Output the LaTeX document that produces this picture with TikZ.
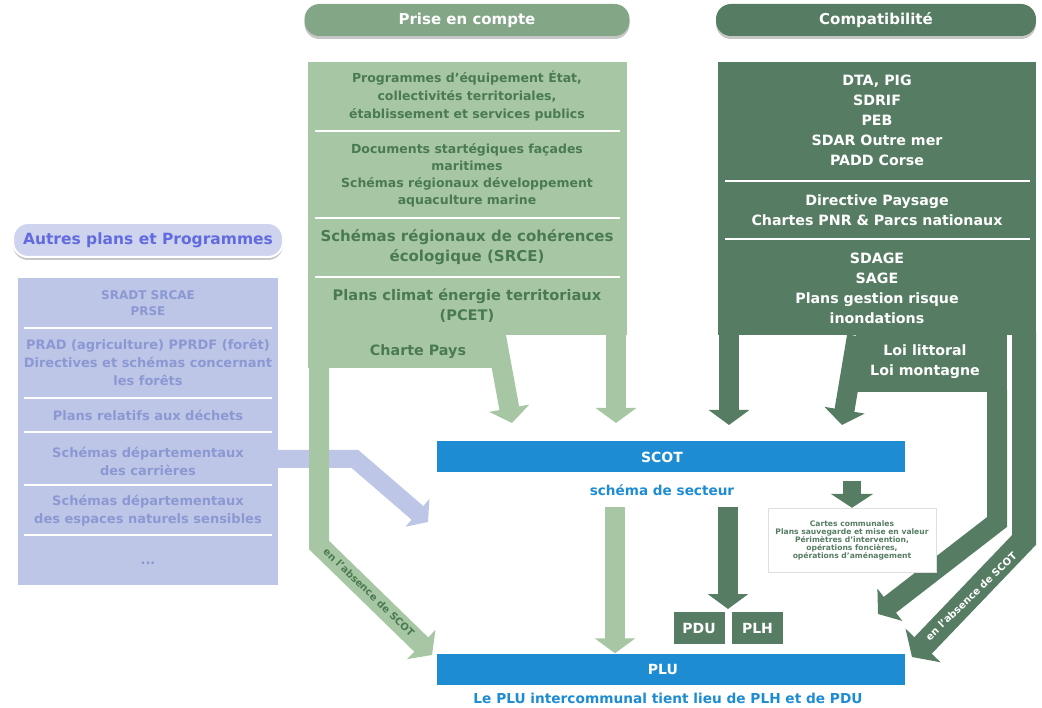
\documentclass[tikz,border=0pt]{standalone}
\usepackage{fontspec}
\setmainfont{DejaVu Sans}
\usetikzlibrary{arrows.meta,shadows}

\definecolor{paleGreen}{HTML}{A7C7A4}
\definecolor{paleGreenText}{HTML}{4A7A50}
\definecolor{deepGreen}{HTML}{567D63}
\definecolor{lavender}{HTML}{BEC6E8}
\definecolor{lavenderText}{HTML}{8C98D2}
\definecolor{scotBlue}{HTML}{1E8CD2}

\newcommand{\tsize}[2]{\fontsize{#1}{#2}\selectfont}

\tikzset{
  fatarrow/.style={line width=20pt, line join=miter, -{Triangle[width=40pt,length=15pt]}},
  sep/.style={white, line width=1.5pt},
  panel/.style={anchor=north west, inner sep=0pt, outer sep=0pt},
  pill/.style={rounded corners=15pt, inner sep=0pt, font=\bfseries\tsize{15}{18}, text=white,
    drop shadow={shadow xshift=0pt, shadow yshift=-3pt, opacity=.45, fill=gray}},
  gtext/.style={align=center, font=\bfseries, text=paleGreenText, inner sep=0pt},
  dtext/.style={align=center, font=\bfseries\tsize{14.2}{20}, text=white, inner sep=0pt},
  ltext/.style={align=center, font=\bfseries\tsize{13}{18}, text=lavenderText, inner sep=0pt},
  bluebar/.style={fill=scotBlue, minimum width=468pt, minimum height=31pt, inner sep=0pt},
  bartext/.style={font=\bfseries\tsize{14}{16}, text=white, inner sep=0pt},
  bluetext/.style={font=\bfseries\tsize{13.6}{18}, text=scotBlue, inner sep=0pt},
  tag/.style={fill=deepGreen, minimum width=51pt, minimum height=32pt, inner sep=0pt,
    font=\bfseries\tsize{14}{16}, text=white}
}

\begin{document}
\begin{tikzpicture}[x=1pt, y=-1pt]
\useasboundingbox (0,0) rectangle (1042,708);

% headers
\node[pill, fill=paleGreen!55!deepGreen, minimum width=325pt, minimum height=32pt] (prise) at (467,20) {Prise en compte};
\node[pill, fill=deepGreen, minimum width=320pt, minimum height=32pt] (compat) at (876,20) {Compatibilité};
\node[pill, fill=lavender!75!white, draw=white, line width=2pt, text=lavenderText!70!blue,
  font=\bfseries\tsize{15.5}{18}, minimum width=270pt, minimum height=34pt] (autres) at (148,240) {Autres plans et Programmes};

% autres plans
\node[panel, fill=lavender, minimum width=260pt, minimum height=307pt] (autresbox) at (18,278) {};
\coordinate (aS) at (276,459);
\coordinate (aB) at (355,459);
\coordinate (aE) at (428,522);
\draw[fatarrow, lavender, line width=18pt, -{Triangle[width=36pt,length=14pt]}] (aS) -- (aB) -- (aE);
\node[ltext, font=\bfseries\tsize{12}{16}] (sradt) at (148,303) {SRADT SRCAE\\PRSE};
\node[ltext] (prad) at (148,362) {PRAD (agriculture) PPRDF (forêt)\\Directives et schémas concernant\\les forêts};
\node[ltext] (dechets) at (148,415) {Plans relatifs aux déchets};
\node[ltext] (carrieres) at (148,461) {Schémas départementaux\\des carrières};
\node[ltext] (ens) at (148,511) {Schémas départementaux\\des espaces naturels sensibles};
\node[ltext] (etc) at (148,563) {...};
\foreach \y in {328,398,432,485,535}
  \draw[sep] (24,\y) -- (272,\y);

% prise en compte
\node[panel, fill=paleGreen, minimum width=319pt, minimum height=273pt] (prisebox) at (308,62) {};
\node[panel, fill=paleGreen, minimum width=195pt, minimum height=35pt] (charte) at (308,333) {};
\coordinate (pL0) at (319,332);
\coordinate (pL1) at (319,545);
\coordinate (pL2) at (432,655);
\draw[fatarrow, paleGreen] (pL0) -- (pL1) -- (pL2);
\coordinate (pC0) at (496,336);
\coordinate (pC1) at (512,423);
\draw[fatarrow, paleGreen] (pC0) -- (pC1);
\coordinate (pR0) at (616,332);
\coordinate (pR1) at (616,423);
\draw[fatarrow, paleGreen] (pR0) -- (pR1);
\node[gtext, font=\bfseries\tsize{12.5}{18}] (equip) at (467,96) {Programmes d'équipement État,\\collectivités territoriales,\\établissement et services publics};
\node[gtext, font=\bfseries\tsize{12.5}{17}] (facades) at (467,175) {Documents startégiques façades\\maritimes\\Schémas régionaux développement\\aquaculture marine};
\node[gtext, font=\bfseries\tsize{15}{20}] (srce) at (467,247) {Schémas régionaux de cohérences\\écologique (SRCE)};
\node[gtext, font=\bfseries\tsize{14.6}{20}] (pcet) at (467,306) {Plans climat énergie territoriaux\\(PCET)};
\node[gtext, font=\bfseries\tsize{14.3}{18}] (charteT) at (418,352) {Charte Pays};
\foreach \y in {131,218,277}
  \draw[sep] (315,\y) -- (620,\y);
\node[gtext, font=\bfseries\tsize{10}{12}, rotate=-44] (absG) at (369,592) {en l'absence de SCOT};

% compatibilite
\node[panel, fill=deepGreen, minimum width=318pt, minimum height=273pt] (compatbox) at (718,62) {};
\node[panel, fill=deepGreen, minimum width=151pt, minimum height=59pt] (loiblock) at (856,333) {};
\coordinate (cL0) at (729,332);
\coordinate (cL1) at (729,425);
\draw[fatarrow, deepGreen] (cL0) -- (cL1);
\coordinate (cM0) at (857,336);
\coordinate (cM1) at (842,425);
\draw[fatarrow, deepGreen] (cM0) -- (cM1);
\coordinate (cI0) at (997,390);
\coordinate (cI1) at (997,522);
\coordinate (cI2) at (878,614);
\draw[fatarrow, deepGreen] (cI0) -- (cI1) -- (cI2);
\coordinate (cO0) at (1024,332);
\coordinate (cO1) at (1024,540);
\coordinate (cO2) at (912,657);
\draw[fatarrow, deepGreen, line width=24pt, -{Triangle[width=48pt,length=16pt]}] (cO0) -- (cO1) -- (cO2);
\node[dtext] (dta) at (877,120) {DTA, PIG\\SDRIF\\PEB\\SDAR Outre mer\\PADD Corse};
\node[dtext] (paysage) at (877,210) {Directive Paysage\\Chartes PNR \& Parcs nationaux};
\node[dtext] (sdage) at (877,288) {SDAGE\\SAGE\\Plans gestion risque\\inondations};
\node[dtext] (loi) at (925,362) {Loi littoral\\Loi montagne};
\foreach \y in {181,239}
  \draw[sep] (725,\y) -- (1030,\y);
\node[dtext, font=\bfseries\tsize{10}{12}, rotate=44] (absD) at (971,596) {en l'absence de SCOT};

% scot et plu
\node[bluebar] (scot) at (671,457) {};
\node[bartext] (scotT) at (662,457) {SCOT};
\node[bluetext] (secteur) at (662,490) {schéma de secteur};
\node[bluebar] (plu) at (671,669) {};
\node[bartext] (pluT) at (663,669) {PLU};
\node[bluetext, font=\bfseries\tsize{13.7}{17}] (caption) at (668,698) {Le PLU intercommunal tient lieu de PLH et de PDU};
\node[tag] (pdu) at (699,628) {PDU};
\node[tag] (plh) at (757.5,628) {PLH};
\coordinate (sG0) at (615,507);
\draw[fatarrow, paleGreen] (sG0) -- (plu.north -| sG0);
\coordinate (sD0) at (728,507);
\draw[fatarrow, deepGreen] (sD0) -- (728,609);
\node[draw=gray!25, fill=white, minimum width=168pt, minimum height=64pt, inner sep=0pt,
  align=center, font=\bfseries\tsize{7.6}{8}, text=deepGreen,
  drop shadow={shadow xshift=1pt, shadow yshift=-1pt, opacity=.15, fill=gray}] (cartes) at (852,540)
  {Cartes communales\\Plans sauvegarde et mise en valeur\\Périmètres d'intervention,\\opérations foncières,\\opérations d'aménagement};
\coordinate (sC0) at (852,481);
\draw[fatarrow, deepGreen, line width=18pt, -{Triangle[width=42pt,length=14pt]}] (sC0) -- (cartes.north);
\end{tikzpicture}
\end{document}
